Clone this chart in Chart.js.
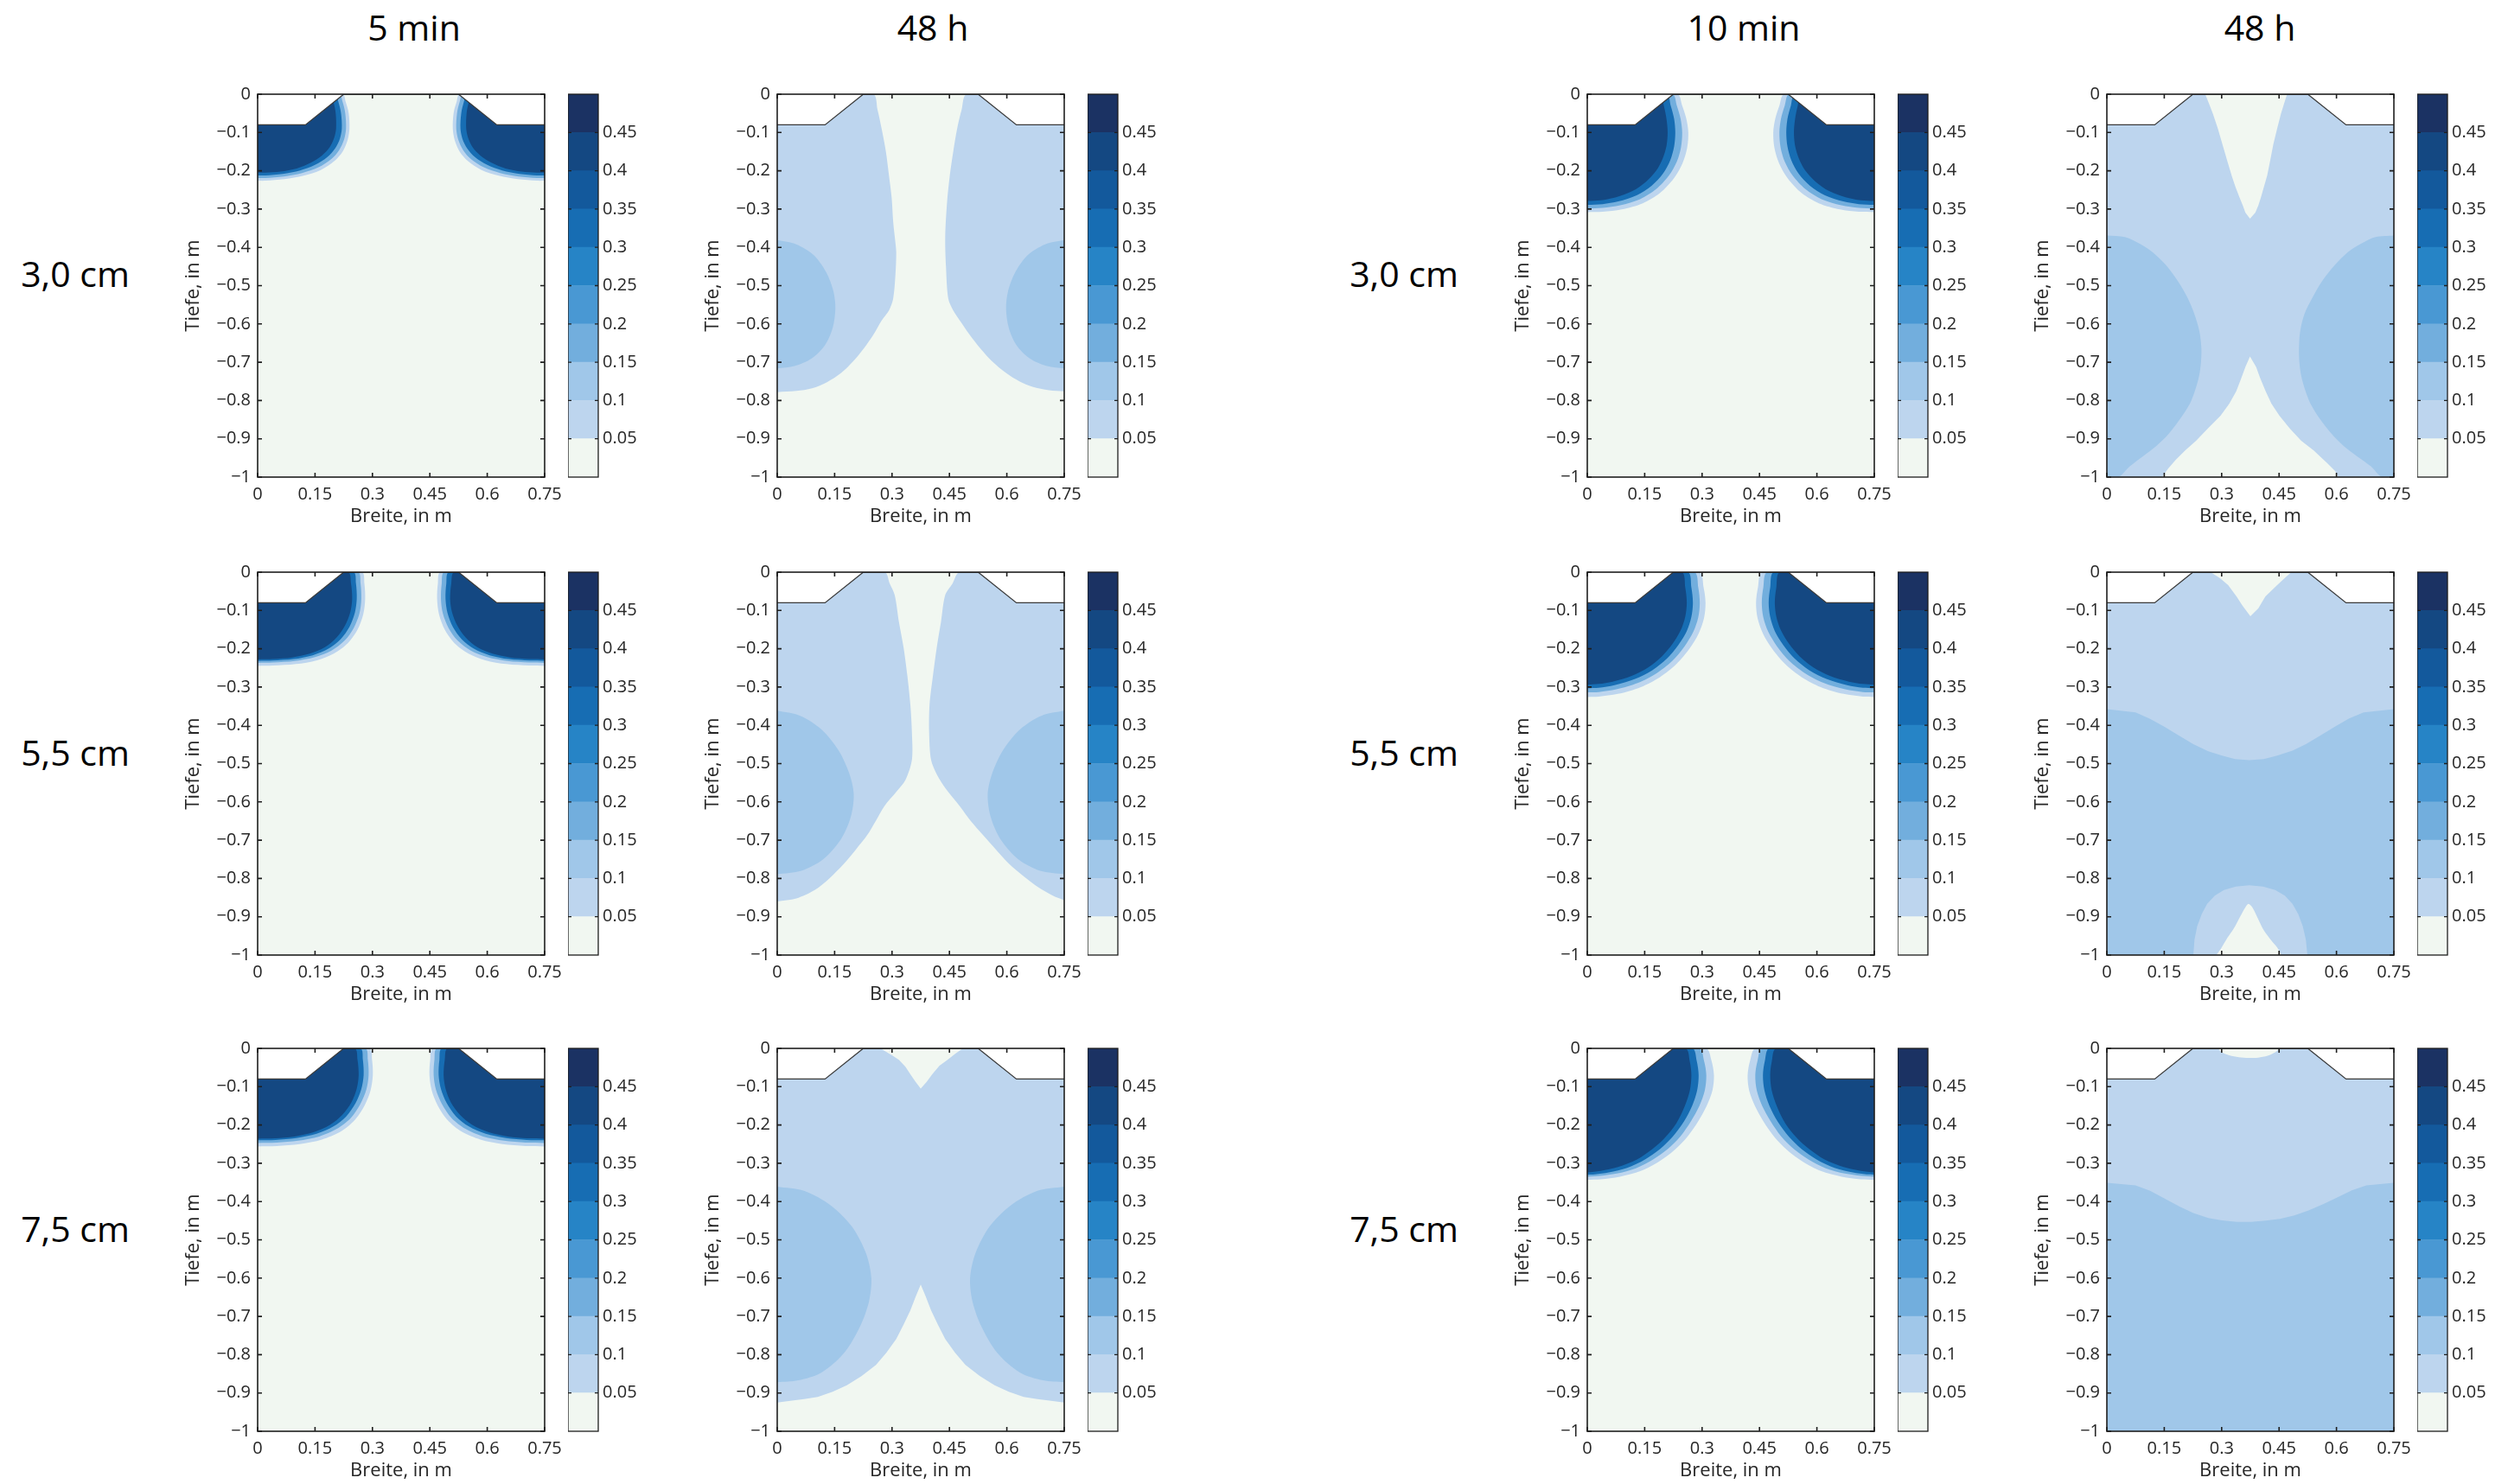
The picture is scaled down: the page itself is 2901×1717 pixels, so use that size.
<!DOCTYPE html>
<html>
<head>
<meta charset="utf-8">
<script src="https://cdn.jsdelivr.net/npm/chart.js@4.4.1/dist/chart.umd.min.js"></script>
<style>
  body { margin: 0; background: #fff; width: 2901px; height: 1717px; position: relative; overflow: hidden; font-family: "Open Sans", sans-serif; }
  .lbl { position: absolute; font-size: 41px; color: #000; transform: translate(-50%, -50%); white-space: nowrap; }
</style>
</head>
<body>
<script>
// ---------------------------------------------------------------
// Axes, colour levels and titles
// ---------------------------------------------------------------
const X_TICKS = [0, 0.15, 0.3, 0.45, 0.6, 0.75];
const Y_TICKS = [0, -0.1, -0.2, -0.3, -0.4, -0.5, -0.6, -0.7, -0.8, -0.9, -1];
const CB_TICKS = [0.05, 0.1, 0.15, 0.2, 0.25, 0.3, 0.35, 0.4, 0.45];
const CB_STEPS = [0.05, 0.05, 0.05, 0.05, 0.05, 0.05, 0.05, 0.05, 0.05, 0.05];
const LEVEL_COLORS = ['#f1f7f1', '#bdd5ee', '#a0c7e9', '#72aedd', '#4998d3', '#2684c6', '#176db3', '#13599c', '#144882', '#1b3263'];
const COL_TITLES = ['5 min', '48 h', '10 min', '48 h'];
const ROW_TITLES = ['3,0 cm', '5,5 cm', '7,5 cm'];

// Oberfläche (Damm) und Modellgebiet
const SURFACE = [[0, -0.08], [0.125, -0.08], [0.225, 0], [0.525, 0], [0.625, -0.08], [0.75, -0.08]];
const MASK_L = [[0, 0], [0, -0.08], [0.125, -0.08], [0.225, 0]];
const MASK_R = [[0.525, 0], [0.625, -0.08], [0.75, -0.08], [0.75, 0]];
const DOMAIN = [[0, 0], [0.75, 0], [0.75, -1], [0, -1]];

// ---------------------------------------------------------------
// Contours, 5 min (a = left, b = right)
// ---------------------------------------------------------------
// 3,0 cm
const t5_30_L1a = [[0.222,0],[0.23,-0.02],[0.238,-0.05],[0.24,-0.09],[0.235,-0.12],[0.222,-0.15],[0.2,-0.175],[0.165,-0.198],[0.12,-0.213],[0.07,-0.222],[0.02,-0.226],[0,-0.226]];
const t5_30_L1b = [[0.528,0],[0.52,-0.02],[0.512,-0.05],[0.51,-0.09],[0.515,-0.12],[0.528,-0.15],[0.55,-0.175],[0.585,-0.198],[0.63,-0.213],[0.68,-0.222],[0.73,-0.226],[0.75,-0.226]];
const t5_30_L3a = [[0.213,0],[0.222,-0.02],[0.229,-0.05],[0.231,-0.09],[0.226,-0.118],[0.213,-0.146],[0.192,-0.17],[0.159,-0.191],[0.116,-0.206],[0.068,-0.215],[0.02,-0.219],[0,-0.219]];
const t5_30_L3b = [[0.537,0],[0.528,-0.02],[0.521,-0.05],[0.519,-0.09],[0.524,-0.118],[0.537,-0.146],[0.558,-0.17],[0.591,-0.191],[0.634,-0.206],[0.682,-0.215],[0.73,-0.219],[0.75,-0.219]];
const t5_30_L6a = [[0.203,0],[0.211,-0.02],[0.218,-0.05],[0.22,-0.09],[0.215,-0.116],[0.202,-0.142],[0.182,-0.164],[0.151,-0.184],[0.111,-0.199],[0.065,-0.208],[0.02,-0.212],[0,-0.212]];
const t5_30_L6b = [[0.547,0],[0.539,-0.02],[0.532,-0.05],[0.53,-0.09],[0.535,-0.116],[0.548,-0.142],[0.568,-0.164],[0.599,-0.184],[0.639,-0.199],[0.685,-0.208],[0.73,-0.212],[0.75,-0.212]];
const t5_30_L8a = [[0.19,0],[0.198,-0.02],[0.204,-0.05],[0.205,-0.09],[0.2,-0.114],[0.188,-0.139],[0.168,-0.16],[0.139,-0.179],[0.102,-0.194],[0.06,-0.202],[0.02,-0.205],[0,-0.205]];
const t5_30_L8b = [[0.56,0],[0.552,-0.02],[0.546,-0.05],[0.545,-0.09],[0.55,-0.114],[0.562,-0.139],[0.582,-0.16],[0.611,-0.179],[0.648,-0.194],[0.69,-0.202],[0.73,-0.205],[0.75,-0.205]];
// 5,5 cm
const t5_55_L1a = [[0.272,0],[0.279,-0.03],[0.281,-0.07],[0.276,-0.11],[0.261,-0.15],[0.236,-0.185],[0.2,-0.212],[0.155,-0.23],[0.1,-0.24],[0.04,-0.244],[0,-0.245]];
const t5_55_L1b = [[0.478,0],[0.471,-0.03],[0.469,-0.07],[0.474,-0.11],[0.489,-0.15],[0.514,-0.185],[0.55,-0.212],[0.595,-0.23],[0.65,-0.24],[0.71,-0.244],[0.75,-0.245]];
const t5_55_L3a = [[0.262,0],[0.269,-0.03],[0.271,-0.07],[0.266,-0.108],[0.251,-0.146],[0.227,-0.179],[0.193,-0.205],[0.15,-0.222],[0.097,-0.232],[0.04,-0.236],[0,-0.237]];
const t5_55_L3b = [[0.488,0],[0.481,-0.03],[0.479,-0.07],[0.484,-0.108],[0.499,-0.146],[0.523,-0.179],[0.557,-0.205],[0.6,-0.222],[0.653,-0.232],[0.71,-0.236],[0.75,-0.237]];
const t5_55_L6a = [[0.25,0],[0.257,-0.03],[0.259,-0.07],[0.254,-0.106],[0.24,-0.143],[0.217,-0.175],[0.185,-0.2],[0.144,-0.217],[0.094,-0.227],[0.04,-0.231],[0,-0.232]];
const t5_55_L6b = [[0.5,0],[0.493,-0.03],[0.491,-0.07],[0.496,-0.106],[0.51,-0.143],[0.533,-0.175],[0.565,-0.2],[0.606,-0.217],[0.656,-0.227],[0.71,-0.231],[0.75,-0.232]];
const t5_55_L8a = [[0.236,0],[0.244,-0.03],[0.247,-0.07],[0.242,-0.105],[0.228,-0.14],[0.206,-0.171],[0.176,-0.196],[0.136,-0.213],[0.09,-0.223],[0.04,-0.227],[0,-0.228]];
const t5_55_L8b = [[0.514,0],[0.506,-0.03],[0.503,-0.07],[0.508,-0.105],[0.522,-0.14],[0.544,-0.171],[0.574,-0.196],[0.614,-0.213],[0.66,-0.223],[0.71,-0.227],[0.75,-0.228]];
// 7,5 cm
const t5_75_L1a = [[0.292,0],[0.299,-0.03],[0.301,-0.07],[0.295,-0.11],[0.279,-0.15],[0.253,-0.188],[0.216,-0.218],[0.168,-0.238],[0.11,-0.25],[0.05,-0.255],[0,-0.256]];
const t5_75_L1b = [[0.458,0],[0.451,-0.03],[0.449,-0.07],[0.455,-0.11],[0.471,-0.15],[0.497,-0.188],[0.534,-0.218],[0.582,-0.238],[0.64,-0.25],[0.7,-0.255],[0.75,-0.256]];
const t5_75_L3a = [[0.281,0],[0.288,-0.03],[0.29,-0.07],[0.284,-0.108],[0.268,-0.146],[0.243,-0.182],[0.207,-0.21],[0.161,-0.23],[0.106,-0.241],[0.05,-0.246],[0,-0.247]];
const t5_75_L3b = [[0.469,0],[0.462,-0.03],[0.46,-0.07],[0.466,-0.108],[0.482,-0.146],[0.507,-0.182],[0.543,-0.21],[0.589,-0.23],[0.644,-0.241],[0.7,-0.246],[0.75,-0.247]];
const t5_75_L6a = [[0.268,0],[0.275,-0.03],[0.277,-0.07],[0.271,-0.106],[0.256,-0.143],[0.232,-0.177],[0.198,-0.204],[0.154,-0.223],[0.101,-0.234],[0.047,-0.239],[0,-0.24]];
const t5_75_L6b = [[0.482,0],[0.475,-0.03],[0.473,-0.07],[0.479,-0.106],[0.494,-0.143],[0.518,-0.177],[0.552,-0.204],[0.596,-0.223],[0.649,-0.234],[0.703,-0.239],[0.75,-0.24]];
const t5_75_L8a = [[0.253,0],[0.261,-0.03],[0.264,-0.07],[0.259,-0.105],[0.245,-0.141],[0.221,-0.174],[0.189,-0.2],[0.146,-0.219],[0.096,-0.23],[0.045,-0.235],[0,-0.236]];
const t5_75_L8b = [[0.497,0],[0.489,-0.03],[0.486,-0.07],[0.491,-0.105],[0.505,-0.141],[0.529,-0.174],[0.561,-0.2],[0.604,-0.219],[0.654,-0.23],[0.705,-0.235],[0.75,-0.236]];

// ---------------------------------------------------------------
// Contours, 10 min
// ---------------------------------------------------------------
// 3,0 cm
const t10_30_L1a = [[0.235,0],[0.248,-0.03],[0.259,-0.065],[0.264,-0.1],[0.261,-0.14],[0.249,-0.18],[0.226,-0.22],[0.19,-0.258],[0.145,-0.285],[0.09,-0.301],[0.04,-0.307],[0,-0.308]];
const t10_30_L1b = [[0.515,0],[0.502,-0.03],[0.491,-0.065],[0.486,-0.1],[0.489,-0.14],[0.501,-0.18],[0.524,-0.22],[0.56,-0.258],[0.605,-0.285],[0.66,-0.301],[0.71,-0.307],[0.75,-0.308]];
const t10_30_L3a = [[0.222,0],[0.234,-0.03],[0.244,-0.065],[0.248,-0.1],[0.245,-0.138],[0.234,-0.176],[0.213,-0.213],[0.18,-0.248],[0.138,-0.274],[0.086,-0.29],[0.04,-0.297],[0,-0.299]];
const t10_30_L3b = [[0.528,0],[0.516,-0.03],[0.506,-0.065],[0.502,-0.1],[0.505,-0.138],[0.516,-0.176],[0.537,-0.213],[0.57,-0.248],[0.612,-0.274],[0.664,-0.29],[0.71,-0.297],[0.75,-0.299]];
const t10_30_L6a = [[0.207,0],[0.218,-0.03],[0.227,-0.065],[0.23,-0.1],[0.227,-0.136],[0.217,-0.172],[0.198,-0.207],[0.168,-0.239],[0.129,-0.264],[0.081,-0.28],[0.04,-0.287],[0,-0.289]];
const t10_30_L6b = [[0.543,0],[0.532,-0.03],[0.523,-0.065],[0.52,-0.1],[0.523,-0.136],[0.533,-0.172],[0.552,-0.207],[0.582,-0.239],[0.621,-0.264],[0.669,-0.28],[0.71,-0.287],[0.75,-0.289]];
const t10_30_L8a = [[0.19,0],[0.2,-0.03],[0.207,-0.065],[0.21,-0.1],[0.207,-0.135],[0.197,-0.168],[0.18,-0.2],[0.153,-0.229],[0.118,-0.253],[0.075,-0.269],[0.035,-0.277],[0,-0.279]];
const t10_30_L8b = [[0.56,0],[0.55,-0.03],[0.543,-0.065],[0.54,-0.1],[0.543,-0.135],[0.553,-0.168],[0.57,-0.2],[0.597,-0.229],[0.632,-0.253],[0.675,-0.269],[0.715,-0.277],[0.75,-0.279]];
// 5,5 cm
const t10_55_L1a = [[0.292,0],[0.304,-0.04],[0.309,-0.08],[0.305,-0.12],[0.291,-0.16],[0.267,-0.2],[0.233,-0.24],[0.19,-0.274],[0.14,-0.3],[0.08,-0.318],[0.03,-0.325],[0,-0.326]];
const t10_55_L1b = [[0.458,0],[0.446,-0.04],[0.441,-0.08],[0.445,-0.12],[0.459,-0.16],[0.483,-0.2],[0.517,-0.24],[0.56,-0.274],[0.61,-0.3],[0.67,-0.318],[0.72,-0.325],[0.75,-0.326]];
const t10_55_L3a = [[0.279,0],[0.29,-0.04],[0.294,-0.08],[0.29,-0.118],[0.277,-0.156],[0.254,-0.194],[0.222,-0.232],[0.181,-0.264],[0.133,-0.289],[0.076,-0.306],[0.03,-0.313],[0,-0.314]];
const t10_55_L3b = [[0.471,0],[0.46,-0.04],[0.456,-0.08],[0.46,-0.118],[0.473,-0.156],[0.496,-0.194],[0.528,-0.232],[0.569,-0.264],[0.617,-0.289],[0.674,-0.306],[0.72,-0.313],[0.75,-0.314]];
const t10_55_L6a = [[0.262,0],[0.272,-0.04],[0.276,-0.08],[0.272,-0.117],[0.26,-0.154],[0.238,-0.19],[0.208,-0.226],[0.17,-0.256],[0.125,-0.279],[0.071,-0.295],[0.03,-0.302],[0,-0.303]];
const t10_55_L6b = [[0.488,0],[0.478,-0.04],[0.474,-0.08],[0.478,-0.117],[0.49,-0.154],[0.512,-0.19],[0.542,-0.226],[0.58,-0.256],[0.625,-0.279],[0.679,-0.295],[0.72,-0.302],[0.75,-0.303]];
const t10_55_L8a = [[0.246,0],[0.256,-0.04],[0.26,-0.08],[0.256,-0.116],[0.244,-0.152],[0.223,-0.187],[0.195,-0.22],[0.159,-0.249],[0.116,-0.271],[0.066,-0.286],[0.03,-0.292],[0,-0.294]];
const t10_55_L8b = [[0.504,0],[0.494,-0.04],[0.49,-0.08],[0.494,-0.116],[0.506,-0.152],[0.527,-0.187],[0.555,-0.22],[0.591,-0.249],[0.634,-0.271],[0.684,-0.286],[0.72,-0.292],[0.75,-0.294]];
// 7,5 cm
const t10_75_L1a = [[0.31,0],[0.324,-0.03],[0.331,-0.07],[0.327,-0.11],[0.312,-0.15],[0.29,-0.19],[0.262,-0.23],[0.228,-0.265],[0.188,-0.295],[0.14,-0.32],[0.085,-0.335],[0.035,-0.342],[0,-0.343]];
const t10_75_L1b = [[0.44,0],[0.426,-0.03],[0.419,-0.07],[0.423,-0.11],[0.438,-0.15],[0.46,-0.19],[0.488,-0.23],[0.522,-0.265],[0.562,-0.295],[0.61,-0.32],[0.665,-0.335],[0.715,-0.342],[0.75,-0.343]];
const t10_75_L3a = [[0.292,0],[0.305,-0.032],[0.311,-0.07],[0.307,-0.11],[0.293,-0.15],[0.271,-0.19],[0.243,-0.23],[0.21,-0.263],[0.172,-0.29],[0.127,-0.313],[0.077,-0.327],[0.033,-0.333],[0,-0.335]];
const t10_75_L3b = [[0.458,0],[0.445,-0.032],[0.439,-0.07],[0.443,-0.11],[0.457,-0.15],[0.479,-0.19],[0.507,-0.23],[0.54,-0.263],[0.578,-0.29],[0.623,-0.313],[0.673,-0.327],[0.717,-0.333],[0.75,-0.335]];
const t10_75_L6a = [[0.274,0],[0.286,-0.033],[0.291,-0.07],[0.287,-0.11],[0.274,-0.15],[0.252,-0.192],[0.223,-0.231],[0.19,-0.263],[0.151,-0.29],[0.104,-0.312],[0.056,-0.324],[0.02,-0.329],[0,-0.33]];
const t10_75_L6b = [[0.476,0],[0.464,-0.033],[0.459,-0.07],[0.463,-0.11],[0.476,-0.15],[0.498,-0.192],[0.527,-0.231],[0.56,-0.263],[0.599,-0.29],[0.646,-0.312],[0.694,-0.324],[0.73,-0.329],[0.75,-0.33]];
const t10_75_L8a = [[0.256,0],[0.268,-0.035],[0.272,-0.07],[0.268,-0.11],[0.255,-0.15],[0.233,-0.195],[0.203,-0.233],[0.17,-0.263],[0.13,-0.29],[0.08,-0.31],[0.035,-0.32],[0,-0.324]];
const t10_75_L8b = [[0.494,0],[0.482,-0.035],[0.478,-0.07],[0.482,-0.11],[0.495,-0.15],[0.517,-0.195],[0.547,-0.233],[0.58,-0.263],[0.62,-0.29],[0.67,-0.31],[0.715,-0.32],[0.75,-0.324]];

// ---------------------------------------------------------------
// Contours, 48 h after 5 min
// ---------------------------------------------------------------
const h48a_30_L1a = [[0.25,0],[0.262,-0.04],[0.273,-0.091],[0.284,-0.15],[0.292,-0.212],[0.299,-0.27],[0.303,-0.333],[0.308,-0.38],[0.311,-0.413],[0.309,-0.47],[0.303,-0.534],[0.292,-0.565],[0.273,-0.591],[0.252,-0.627],[0.227,-0.663],[0.198,-0.698],[0.167,-0.728],[0.13,-0.752],[0.091,-0.768],[0.05,-0.775],[0,-0.778]];
const h48a_30_L1b = [[0.496,0],[0.482,-0.04],[0.47,-0.091],[0.46,-0.15],[0.451,-0.212],[0.444,-0.28],[0.439,-0.373],[0.441,-0.45],[0.447,-0.534],[0.46,-0.565],[0.477,-0.591],[0.502,-0.627],[0.53,-0.663],[0.562,-0.698],[0.598,-0.728],[0.633,-0.75],[0.667,-0.764],[0.71,-0.773],[0.75,-0.776]];
const h48a_30_L2a = [[0,-0.381],[0.05,-0.392],[0.095,-0.42],[0.128,-0.465],[0.147,-0.515],[0.152,-0.56],[0.145,-0.61],[0.125,-0.655],[0.09,-0.69],[0.045,-0.71],[0,-0.716]];
const h48a_30_L2b = [[0.75,-0.381],[0.7,-0.392],[0.655,-0.42],[0.622,-0.465],[0.603,-0.515],[0.598,-0.56],[0.605,-0.61],[0.625,-0.655],[0.66,-0.69],[0.705,-0.71],[0.75,-0.716]];

const h48a_55_L1a = [[0.28,0],[0.294,-0.03],[0.307,-0.06],[0.318,-0.13],[0.33,-0.196],[0.34,-0.27],[0.348,-0.347],[0.352,-0.42],[0.352,-0.49],[0.335,-0.543],[0.311,-0.574],[0.28,-0.611],[0.258,-0.649],[0.235,-0.687],[0.205,-0.725],[0.174,-0.762],[0.136,-0.8],[0.098,-0.83],[0.05,-0.852],[0,-0.86]];
const h48a_55_L1b = [[0.477,0],[0.458,-0.03],[0.439,-0.06],[0.428,-0.13],[0.417,-0.196],[0.407,-0.27],[0.398,-0.347],[0.397,-0.42],[0.402,-0.49],[0.417,-0.528],[0.44,-0.565],[0.477,-0.611],[0.505,-0.649],[0.538,-0.687],[0.572,-0.725],[0.606,-0.762],[0.645,-0.795],[0.682,-0.823],[0.72,-0.845],[0.75,-0.857]];
const h48a_55_L2a = [[0,-0.362],[0.06,-0.375],[0.115,-0.41],[0.16,-0.465],[0.188,-0.525],[0.2,-0.58],[0.192,-0.64],[0.165,-0.7],[0.12,-0.75],[0.063,-0.78],[0,-0.789]];
const h48a_55_L2b = [[0.75,-0.362],[0.69,-0.375],[0.635,-0.41],[0.59,-0.465],[0.562,-0.525],[0.55,-0.58],[0.558,-0.64],[0.585,-0.7],[0.63,-0.75],[0.687,-0.78],[0.75,-0.789]];

const h48a_75_L1 = [[0,0],[0.27,0],[0.28,-0.006],[0.3,-0.018],[0.318,-0.03],[0.335,-0.048],[0.348,-0.068],[0.362,-0.088],[0.375,-0.105],[0.39,-0.088],[0.405,-0.068],[0.424,-0.045],[0.445,-0.03],[0.465,-0.014],[0.485,0],[0.75,0],[0.75,-0.925],[0.72,-0.921],[0.68,-0.916],[0.644,-0.91],[0.605,-0.897],[0.568,-0.88],[0.53,-0.856],[0.492,-0.827],[0.465,-0.795],[0.439,-0.759],[0.42,-0.722],[0.402,-0.684],[0.388,-0.648],[0.375,-0.617],[0.362,-0.648],[0.348,-0.684],[0.33,-0.722],[0.311,-0.759],[0.285,-0.795],[0.258,-0.827],[0.22,-0.856],[0.182,-0.88],[0.145,-0.897],[0.106,-0.91],[0.07,-0.916],[0.03,-0.921],[0,-0.925]];
const h48a_75_L2a = [[0,-0.361],[0.07,-0.372],[0.14,-0.41],[0.195,-0.465],[0.232,-0.535],[0.246,-0.6],[0.24,-0.66],[0.217,-0.725],[0.175,-0.795],[0.115,-0.847],[0.055,-0.867],[0,-0.872]];
const h48a_75_L2b = [[0.75,-0.361],[0.68,-0.372],[0.61,-0.41],[0.555,-0.465],[0.518,-0.535],[0.504,-0.6],[0.51,-0.66],[0.533,-0.725],[0.575,-0.795],[0.635,-0.847],[0.695,-0.867],[0.75,-0.872]];

// ---------------------------------------------------------------
// Contours, 48 h after 10 min
// ---------------------------------------------------------------
const h48b_30_L1 = [[0,0],[0.257,0],[0.267,-0.025],[0.277,-0.051],[0.29,-0.09],[0.302,-0.131],[0.314,-0.172],[0.326,-0.212],[0.336,-0.242],[0.346,-0.268],[0.355,-0.29],[0.362,-0.309],[0.374,-0.325],[0.388,-0.309],[0.396,-0.29],[0.403,-0.268],[0.411,-0.24],[0.419,-0.212],[0.427,-0.172],[0.435,-0.131],[0.445,-0.09],[0.455,-0.051],[0.463,-0.025],[0.471,0],[0.75,0],[0.75,-1],[0.605,-1],[0.597,-0.985],[0.575,-0.963],[0.54,-0.93],[0.508,-0.905],[0.478,-0.873],[0.451,-0.84],[0.43,-0.808],[0.415,-0.776],[0.4,-0.74],[0.39,-0.712],[0.374,-0.685],[0.362,-0.712],[0.35,-0.745],[0.338,-0.776],[0.32,-0.808],[0.297,-0.84],[0.265,-0.872],[0.233,-0.905],[0.205,-0.93],[0.18,-0.955],[0.16,-0.978],[0.144,-1],[0,-1]];
const h48b_30_L2a = [[0,-0.369],[0.047,-0.373],[0.085,-0.39],[0.12,-0.413],[0.155,-0.447],[0.184,-0.486],[0.21,-0.53],[0.229,-0.575],[0.242,-0.62],[0.247,-0.663],[0.246,-0.7],[0.241,-0.736],[0.231,-0.772],[0.217,-0.808],[0.19,-0.85],[0.16,-0.889],[0.128,-0.92],[0.095,-0.945],[0.06,-0.972],[0.039,-0.994],[0.03,-1],[0,-1]];
const h48b_30_L2b = [[0.75,-0.369],[0.702,-0.373],[0.665,-0.39],[0.629,-0.413],[0.595,-0.447],[0.564,-0.486],[0.538,-0.53],[0.516,-0.575],[0.505,-0.62],[0.502,-0.663],[0.503,-0.7],[0.508,-0.736],[0.518,-0.772],[0.532,-0.808],[0.558,-0.85],[0.589,-0.889],[0.62,-0.92],[0.653,-0.945],[0.69,-0.972],[0.71,-0.994],[0.72,-1],[0.75,-1]];

const h48b_55_L1 = [[0,0],[0.271,0],[0.295,-0.015],[0.317,-0.034],[0.339,-0.064],[0.354,-0.087],[0.375,-0.115],[0.396,-0.094],[0.414,-0.064],[0.445,-0.034],[0.465,-0.015],[0.482,0],[0.75,0],[0.75,-1],[0,-1]];
const h48b_55_L2 = [[0,-0.358],[0.075,-0.366],[0.113,-0.383],[0.151,-0.404],[0.19,-0.428],[0.226,-0.449],[0.265,-0.468],[0.301,-0.479],[0.335,-0.488],[0.372,-0.491],[0.41,-0.488],[0.445,-0.479],[0.485,-0.466],[0.52,-0.449],[0.557,-0.427],[0.595,-0.404],[0.633,-0.382],[0.671,-0.366],[0.75,-0.358],[0.75,-1],[0.524,-1],[0.52,-0.96],[0.512,-0.925],[0.5,-0.893],[0.485,-0.866],[0.465,-0.845],[0.44,-0.83],[0.408,-0.821],[0.372,-0.818],[0.337,-0.821],[0.306,-0.83],[0.282,-0.845],[0.262,-0.866],[0.248,-0.893],[0.236,-0.925],[0.229,-0.96],[0.226,-1],[0,-1]];
const h48b_55_L0 = [[0.286,-1],[0.3,-0.98],[0.315,-0.955],[0.332,-0.93],[0.348,-0.9],[0.362,-0.875],[0.37,-0.866],[0.38,-0.875],[0.395,-0.905],[0.41,-0.935],[0.43,-0.962],[0.445,-0.98],[0.456,-1]];

const h48b_75_L0 = [[0.29,0],[0.3,-0.01],[0.32,-0.018],[0.345,-0.023],[0.37,-0.025],[0.395,-0.024],[0.42,-0.019],[0.44,-0.01],[0.452,0]];
const h48b_75_L2 = [[0,-0.351],[0.075,-0.358],[0.113,-0.372],[0.151,-0.392],[0.19,-0.413],[0.226,-0.43],[0.265,-0.443],[0.301,-0.449],[0.34,-0.453],[0.377,-0.453],[0.415,-0.45],[0.452,-0.445],[0.49,-0.436],[0.527,-0.423],[0.565,-0.407],[0.603,-0.389],[0.64,-0.371],[0.678,-0.358],[0.75,-0.351],[0.75,-1],[0,-1]];

// ---------------------------------------------------------------
// Region helpers
// ---------------------------------------------------------------
const blobL = (lv, c) => ({ lv, pts: [[0, 0]].concat(c), t: 0.3 });
const blobR = (lv, c) => ({ lv, pts: [[0.75, 0]].concat(c), t: 0.3 });
const patch = (lv, c) => ({ lv, pts: c, t: 0.3 });
const area = (lv, c) => ({ lv, pts: c, t: 0 });
const pair = (lv, a, b) => [blobL(lv, a), blobR(lv, b)];

const PANELS = [
  { r: 0, c: 0, regs: [...pair(1, t5_30_L1a, t5_30_L1b), ...pair(3, t5_30_L3a, t5_30_L3b), ...pair(6, t5_30_L6a, t5_30_L6b), ...pair(8, t5_30_L8a, t5_30_L8b)] },
  { r: 1, c: 0, regs: [...pair(1, t5_55_L1a, t5_55_L1b), ...pair(3, t5_55_L3a, t5_55_L3b), ...pair(6, t5_55_L6a, t5_55_L6b), ...pair(8, t5_55_L8a, t5_55_L8b)] },
  { r: 2, c: 0, regs: [...pair(1, t5_75_L1a, t5_75_L1b), ...pair(3, t5_75_L3a, t5_75_L3b), ...pair(6, t5_75_L6a, t5_75_L6b), ...pair(8, t5_75_L8a, t5_75_L8b)] },
  { r: 0, c: 1, regs: [...pair(1, h48a_30_L1a, h48a_30_L1b), patch(2, h48a_30_L2a), patch(2, h48a_30_L2b)] },
  { r: 1, c: 1, regs: [...pair(1, h48a_55_L1a, h48a_55_L1b), patch(2, h48a_55_L2a), patch(2, h48a_55_L2b)] },
  { r: 2, c: 1, regs: [area(1, h48a_75_L1), patch(2, h48a_75_L2a), patch(2, h48a_75_L2b)] },
  { r: 0, c: 2, regs: [...pair(1, t10_30_L1a, t10_30_L1b), ...pair(3, t10_30_L3a, t10_30_L3b), ...pair(6, t10_30_L6a, t10_30_L6b), ...pair(8, t10_30_L8a, t10_30_L8b)] },
  { r: 1, c: 2, regs: [...pair(1, t10_55_L1a, t10_55_L1b), ...pair(3, t10_55_L3a, t10_55_L3b), ...pair(6, t10_55_L6a, t10_55_L6b), ...pair(8, t10_55_L8a, t10_55_L8b)] },
  { r: 2, c: 2, regs: [...pair(1, t10_75_L1a, t10_75_L1b), ...pair(3, t10_75_L3a, t10_75_L3b), ...pair(6, t10_75_L6a, t10_75_L6b), ...pair(8, t10_75_L8a, t10_75_L8b)] },
  { r: 0, c: 3, regs: [area(1, h48b_30_L1), patch(2, h48b_30_L2a), patch(2, h48b_30_L2b)] },
  { r: 1, c: 3, regs: [area(1, h48b_55_L1), area(2, h48b_55_L2), patch(0, h48b_55_L0)] },
  { r: 2, c: 3, regs: [area(1, DOMAIN), area(2, h48b_75_L2), patch(0, h48b_75_L0)] },
];

// ---------------------------------------------------------------
// Layout (pixels)
// ---------------------------------------------------------------
const PLOT_X = [298, 899, 1836, 2437];
const PLOT_Y = [109, 662, 1213];
const PLOT_W = 332, PLOT_H = 443;
const Y_AXIS_W = 90, X_AXIS_H = 62, PAD_T = 20, PAD_R = 30, PAD_B = 8;
const CB_GAP = 27, CB_W = 35, CB_AXIS_W = 70;

Chart.defaults.font.family = '"Open Sans", sans-serif';
Chart.defaults.color = '#262626';

// box and inward ticks, like the MATLAB axes
const frame = {
  id: 'frame',
  afterDraw(chart, args, o) {
    const { ctx, chartArea: a } = chart;
    ctx.save();
    ctx.strokeStyle = '#1e1e1e';
    ctx.lineWidth = o.width;
    ctx.beginPath();
    if (o.xTicks) {
      const sx = chart.scales.x;
      sx.ticks.forEach(t => {
        const p = sx.getPixelForValue(t.value);
        ctx.moveTo(p, a.bottom); ctx.lineTo(p, a.bottom - o.len);
        ctx.moveTo(p, a.top); ctx.lineTo(p, a.top + o.len);
      });
    }
    const sy = chart.scales.y;
    sy.ticks.forEach(t => {
      const p = sy.getPixelForValue(t.value);
      ctx.moveTo(a.left, p); ctx.lineTo(a.left + o.len, p);
      ctx.moveTo(a.right, p); ctx.lineTo(a.right - o.len, p);
    });
    ctx.stroke();
    ctx.strokeRect(a.left, a.top, a.right - a.left, a.bottom - a.top);
    ctx.restore();
  }
};

function addCanvas(left, top, w, h) {
  const c = document.createElement('canvas');
  c.width = w; c.height = h;
  c.style.cssText = `position:absolute;left:${left}px;top:${top}px;width:${w}px;height:${h}px`;
  document.body.appendChild(c);
  return c;
}

function addLabel(text, x, y) {
  const d = document.createElement('div');
  d.className = 'lbl';
  d.textContent = text;
  d.style.left = x + 'px';
  d.style.top = y + 'px';
  document.body.appendChild(d);
}

const toXY = pts => pts.map(p => ({ x: p[0], y: p[1] }));

function polySet(pts, color, tension) {
  return {
    data: toXY(pts), showLine: true, fill: 'shape', backgroundColor: color,
    borderWidth: 0, pointRadius: 0, tension: tension
  };
}

function panelChart(p) {
  const left = PLOT_X[p.c], top = PLOT_Y[p.r];
  const canvas = addCanvas(left - Y_AXIS_W, top - PAD_T, Y_AXIS_W + PLOT_W + PAD_R, PAD_T + PLOT_H + X_AXIS_H + PAD_B);

  // painting order: bottom first
  const sets = [polySet(DOMAIN, LEVEL_COLORS[0], 0)];
  p.regs.forEach(g => sets.push(polySet(g.pts, LEVEL_COLORS[g.lv], g.t)));
  sets.push(polySet(MASK_L, '#ffffff', 0));
  sets.push(polySet(MASK_R, '#ffffff', 0));
  sets.push({ data: toXY(SURFACE), showLine: true, fill: false, borderColor: '#3a3a3a', borderWidth: 1.3, pointRadius: 0, tension: 0 });
  sets.forEach((s, i) => { s.order = sets.length - i; });

  new Chart(canvas, {
    type: 'scatter',
    data: { datasets: sets },
    options: {
      responsive: false, animation: false, devicePixelRatio: 1, events: [],
      layout: { padding: { top: PAD_T, right: PAD_R, bottom: PAD_B, left: 0 } },
      plugins: { legend: { display: false }, tooltip: { enabled: false }, frame: { width: 1.6, len: 5, xTicks: true } },
      scales: {
        x: {
          type: 'linear', min: 0, max: 0.75,
          afterBuildTicks: s => { s.ticks = X_TICKS.map(v => ({ value: v })); },
          afterFit: s => { s.height = X_AXIS_H; },
          grid: { display: false, drawTicks: false }, border: { display: false },
          ticks: { padding: 8, font: { size: 20 }, maxRotation: 0, autoSkip: false, callback: v => String(v) },
          title: { display: true, text: 'Breite, in m', font: { size: 22 }, padding: { top: 0, bottom: 3 } }
        },
        y: {
          type: 'linear', min: -1, max: 0,
          afterBuildTicks: s => { s.ticks = Y_TICKS.map(v => ({ value: v })); },
          afterFit: s => { s.width = Y_AXIS_W; },
          grid: { display: false, drawTicks: false }, border: { display: false },
          ticks: { padding: 8, font: { size: 20 }, autoSkip: false, callback: v => v === 0 ? '0' : '\u2212' + String(-v) },
          title: { display: true, text: 'Tiefe, in m', font: { size: 22 }, padding: { top: 3, bottom: 0 } }
        }
      }
    },
    plugins: [frame]
  });

  // colour bar
  const cbLeft = left + PLOT_W + CB_GAP;
  const cbCanvas = addCanvas(cbLeft, top - PAD_T, CB_W + CB_AXIS_W, PLOT_H + 2 * PAD_T);
  new Chart(cbCanvas, {
    type: 'bar',
    data: {
      labels: [''],
      datasets: CB_STEPS.map((v, i) => ({ data: [v], backgroundColor: LEVEL_COLORS[i], borderWidth: 0, barPercentage: 1, categoryPercentage: 1 }))
    },
    options: {
      responsive: false, animation: false, devicePixelRatio: 1, events: [],
      layout: { padding: { top: PAD_T, bottom: PAD_T, left: 0, right: 0 } },
      plugins: { legend: { display: false }, tooltip: { enabled: false }, frame: { width: 1.3, len: 4, xTicks: false } },
      scales: {
        x: { stacked: true, display: false },
        y: {
          stacked: true, position: 'right', min: 0, max: 0.5,
          afterBuildTicks: s => { s.ticks = CB_TICKS.map(v => ({ value: v })); },
          afterFit: s => { s.width = CB_AXIS_W; },
          grid: { display: false, drawTicks: false }, border: { display: false },
          ticks: { padding: 5, font: { size: 20 }, autoSkip: false, callback: v => String(v) }
        }
      }
    },
    plugins: [frame]
  });
}

PANELS.forEach(panelChart);

// titles
const HEAD_X = [479, 1079, 2017, 2614];
COL_TITLES.forEach((t, i) => addLabel(t, HEAD_X[i], 31));
const ROW_X = [87, 1624];
const ROW_Y = [316, 870, 1421];
ROW_TITLES.forEach((t, i) => ROW_X.forEach(x => addLabel(t, x, ROW_Y[i])));
</script>
</body>
</html>
